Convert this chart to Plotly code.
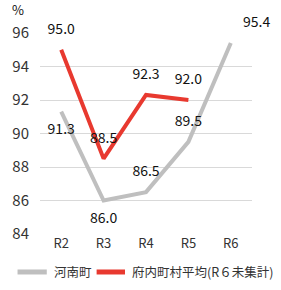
import plotly.graph_objects as go

categories = ["R2", "R3", "R4", "R5", "R6"]
kanan = [91.3, 86.0, 86.5, 89.5, 95.4]
fuchi = [95.0, 88.5, 92.3, 92.0, None]
kanan_pos = ["bottom center", "bottom center", "top center", "top center", "top right"]
fuchi_pos = ["top center", "top center", "top center", "top center", "top center"]
yticks = [84, 86, 88, 90, 92, 94, 96]
legend_names = ["河南町", "府内町村平均(R６未集計)"]
colors = ["#bfbfbf", "#e8392f"]

FONT = "Noto Sans CJK JP"

fig = go.Figure()
fig.add_trace(go.Scatter(
    x=categories, y=kanan, mode="lines+markers+text", name=legend_names[0],
    line=dict(color=colors[0], width=4), cliponaxis=False,
    marker=dict(size=18, color="rgba(0,0,0,0)"),
    text=[f"{v:.1f}" for v in kanan], textposition=kanan_pos,
    textfont=dict(size=14, color="#111111", family=FONT),
))
fig.add_trace(go.Scatter(
    x=categories, y=fuchi, mode="lines+markers+text", name=legend_names[1],
    line=dict(color=colors[1], width=4), cliponaxis=False,
    marker=dict(size=18, color="rgba(0,0,0,0)"),
    text=[f"{v:.1f}" if v is not None else "" for v in fuchi], textposition=fuchi_pos,
    textfont=dict(size=14, color="#111111", family=FONT),
))

# manual legend
leg_y = -0.189
items = [(-0.106, 0.032, 0.055), (0.267, 0.401, 0.424)]
shapes = []
annotations = []
for (x0, x1, xt), name, c in zip(items, legend_names, colors):
    shapes.append(dict(type="line", xref="paper", yref="paper", x0=x0, x1=x1,
                       y0=leg_y, y1=leg_y, line=dict(color=c, width=5)))
    annotations.append(dict(text=name, xref="paper", yref="paper", x=xt, y=leg_y,
                            xanchor="left", yanchor="middle", showarrow=False,
                            font=dict(size=12.5, color="#333333", family=FONT)))
annotations.append(dict(text="%", xref="paper", yref="paper", x=-0.14, y=1.06,
                        xanchor="left", yanchor="bottom", showarrow=False,
                        font=dict(size=13, color="#111111", family=FONT)))

fig.update_layout(
    width=281, height=290,
    margin=dict(l=35, r=29, t=33, b=56),
    paper_bgcolor="white", plot_bgcolor="white",
    font=dict(family=FONT, color="#333333", size=13),
    showlegend=False,
    xaxis=dict(range=[-0.5, 4.5], showgrid=False, showline=False, ticks="",
               tickfont=dict(size=13)),
    yaxis=dict(range=[84, 96], tickvals=yticks, showgrid=True, gridcolor="#d9d9d9",
               gridwidth=1, zeroline=False, showline=False, ticks="",
               tickfont=dict(size=15), ticklabelstandoff=10),
    shapes=shapes,
    annotations=annotations,
)
fig.write_html("out.html")
